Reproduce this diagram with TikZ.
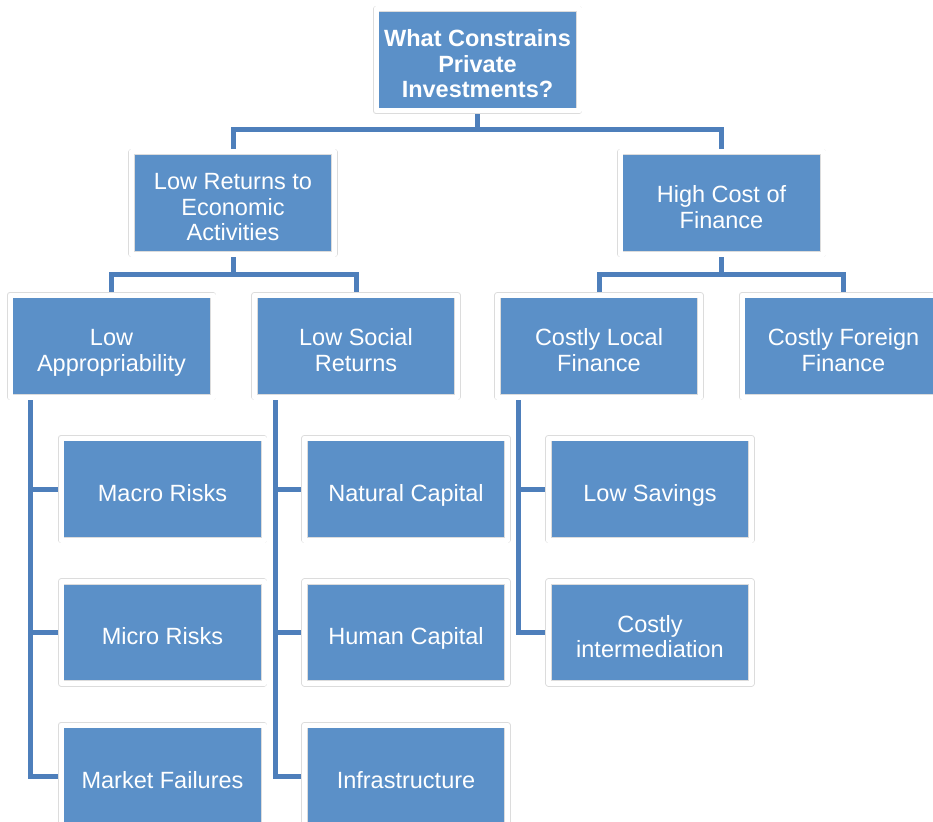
\documentclass[tikz,border=0pt]{standalone}
\usepackage{fontspec}
\setmainfont{Liberation Sans}
\usetikzlibrary{calc}
\definecolor{boxblue}{HTML}{5B90C8}
\definecolor{linkblue}{HTML}{4E7FBB}
\definecolor{framegray}{HTML}{DCDCDC}
\pgfdeclarelayer{bg}
\pgfsetlayers{bg,main}
\newcommand\tstrut{\rule{0pt}{30.6pt}}
\newcommand\bstrut{\rule[-6pt]{0pt}{0pt}}
\begin{document}
\begin{tikzpicture}[x=1pt,y=-1pt,
  box/.style={fill=boxblue, draw=framegray, double=white, double distance=5pt,
    line width=0.6pt, line join=round, minimum width=203pt, minimum height=102pt,
    inner sep=0pt, align=center, text=white, font=\fontsize{23.5}{25.4}\selectfont},
  link/.style={draw=linkblue, line width=5pt, line join=miter}]
\useasboundingbox (0,0) rectangle (933,821);
\clip (0,0) rectangle (933,821);
% nodes
\node[box] (q) at (477.5,60) {\tstrut\bfseries What Constrains\\\bfseries Private\\\bfseries Investments?\bstrut};
\node[box] (lr) at (233,203) {\tstrut Low Returns to\\Economic\\Activities\bstrut};
\node[box] (hc) at (721.5,203) {\tstrut High Cost of\\Finance\bstrut};
\node[box] (la) at (111.5,346) {\tstrut Low\\Appropriability\bstrut};
\node[box] (ls) at (356,346) {\tstrut Low Social\\Returns\bstrut};
\node[box] (cl) at (599,346) {\tstrut Costly Local\\Finance\bstrut};
\node[box] (cf) at (843.5,346) {\tstrut Costly Foreign\\Finance\bstrut};
\node[box] (mr) at (162.5,489) {\tstrut Macro Risks\bstrut};
\node[box] (mi) at (162.5,632.5) {\tstrut Micro Risks\bstrut};
\node[box] (mf) at (162.5,776) {\tstrut Market Failures\bstrut};
\node[box] (nc) at (406,489) {\tstrut Natural Capital\bstrut};
\node[box] (hcap) at (406,632.5) {\tstrut Human Capital\bstrut};
\node[box] (inf) at (406,776) {\tstrut Infrastructure\bstrut};
\node[box] (lsav) at (650,489) {\tstrut Low Savings\bstrut};
\node[box] (ci) at (650,632.5) {\tstrut Costly\\intermediation\bstrut};
% connectors
\coordinate (b1) at (0,130);
\coordinate (b2) at (0,274);
\begin{pgfonlayer}{bg}
\draw[link] (q.south) -- (q.south |- b1) -| (lr.north);
\draw[link] (q.south |- b1) -| (hc.north);
\draw[link] (lr.south) -- (lr.south |- b2) -| (la.north);
\draw[link] (lr.south |- b2) -| (ls.north);
\draw[link] (hc.south) -- (hc.south |- b2) -| (cl.north);
\draw[link] (hc.south |- b2) -| (cf.north);
\coordinate (sa) at ($(la.south west)+(21,0)$);
\coordinate (sb) at ($(ls.south west)+(21,0)$);
\coordinate (sc) at ($(cl.south west)+(21,0)$);
\draw[link] (sa) |- (mf.west);
\draw[link] (sa |- mr.west) -- (mr.west);
\draw[link] (sa |- mi.west) -- (mi.west);
\draw[link] (sb) |- (inf.west);
\draw[link] (sb |- nc.west) -- (nc.west);
\draw[link] (sb |- hcap.west) -- (hcap.west);
\draw[link] (sc) |- (ci.west);
\draw[link] (sc |- lsav.west) -- (lsav.west);
\end{pgfonlayer}
\end{tikzpicture}
\end{document}
